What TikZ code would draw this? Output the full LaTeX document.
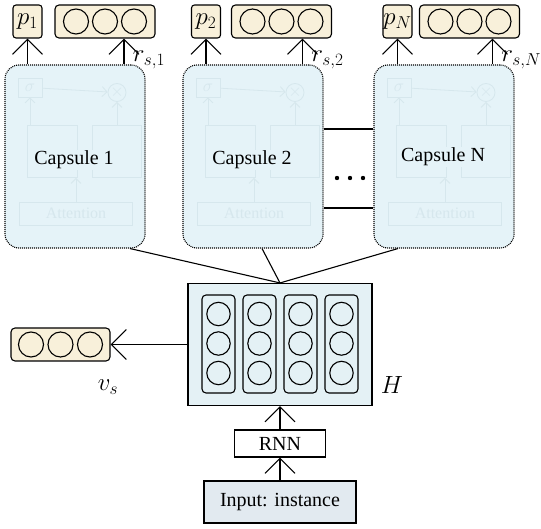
\documentclass[tikz,border=0pt]{standalone}
\usepackage{fontspec}
\setmainfont{Liberation Serif}
\usetikzlibrary{arrows.meta,positioning}
\definecolor{vecfill}{RGB}{248,240,218}
\definecolor{capfill}{RGB}{229,243,248}
\definecolor{hfill}{RGB}{228,241,245}
\definecolor{infill}{RGB}{226,234,240}
\definecolor{ghost}{RGB}{214,231,237}

\begin{document}
\begin{tikzpicture}[x=1pt, y=-1pt, line width=1.1pt,
	font=\fontsize{20}{24}\selectfont,
	arr/.style={-{Straight Barb[length=15pt,width=30pt]}},
	capsule/.style={draw, dash pattern=on 1pt off 1pt, rounded corners=14pt,
		fill=capfill, minimum width=140pt, minimum height=183pt},
	pbox/.style={draw, rounded corners=3pt, fill=vecfill, inner sep=0pt,
		minimum width=29pt, minimum height=33pt, font=\fontsize{25}{28}\selectfont},
	vecbox/.style={draw, rounded corners=4pt, fill=vecfill, inner sep=0pt,
		minimum width=100pt, minimum height=33pt},
	colbox/.style={draw, rounded corners=4pt, inner sep=0pt,
		minimum width=33pt, minimum height=98pt},
	mlabel/.style={font=\fontsize{25}{28}\selectfont},
	gbox/.style={draw=ghost, line width=0.8pt, text=ghost, inner sep=0pt,
		font=\fontsize{16}{18}\selectfont},
	gline/.style={draw=ghost, line width=0.8pt,
		-{Straight Barb[length=5pt,width=10pt]}}
	]
	\useasboundingbox (0,0) rectangle (541,529);

	% capsules
	\node[capsule] (caps1) at (75,156.5) {};
	\node[capsule] (caps2) at (253,156.5) {};
	\node[capsule] (capsN) at (444,156.5) {};
	\foreach \c in {caps1,caps2,capsN} {
		\begin{scope}[shift={(\c.center)}]
			\node[gbox, minimum width=24pt, minimum height=19pt] (\c-sig) at (-45,-69) {$\sigma$};
			\node[gbox, circle, minimum size=18pt] (\c-mul) at (42,-64) {$\times$};
			\draw[gline] (\c-sig) -- (\c-mul);
			\node[gbox, minimum width=50pt, minimum height=52pt] (\c-lft) at (-23,-5) {};
			\node[gbox, minimum width=49pt, minimum height=52pt] (\c-rgt) at (42,-5) {};
			\draw[gline] (\c-lft.north -| \c-sig) -- (\c-sig);
			\draw[gline] (\c-rgt.north -| \c-mul) -- (\c-mul);
			\node[gbox, minimum width=113pt, minimum height=23pt] (\c-att) at (1,57) {Attention};
			\draw[gline] (\c-att.north) -- (\c-att.north |- \c-lft.south);
		\end{scope}
	}
	\node[fill=capfill, inner sep=1pt] (lab1) at (74,160) {Capsule 1};
	\node[fill=capfill, inner sep=1pt] (lab2) at (252,160) {Capsule 2};
	\node[fill=capfill, inner sep=1pt] (labN) at (443,157) {Capsule N};

	% outputs of the capsules
	\node[pbox] (p1) at (27.5,21.5) {$p_1$};
	\node[vecbox] (r1) at (105,21.5) {};
	\node[pbox] (p2) at (206,21.5) {$p_2$};
	\node[vecbox] (r2) at (281.5,21.5) {};
	\node[pbox] (pN) at (397.5,21.5) {$p_N$};
	\node[vecbox] (rN) at (469.5,21.5) {};
	\foreach \r in {r1,r2,rN}
		\foreach \dx in {-29,0,29}
			\draw (\r.center) ++(\dx,0) circle (12.5pt);

	\coordinate (r1a) at ([xshift=19pt]r1.south);
	\coordinate (r2a) at ([xshift=21pt]r2.south);
	\coordinate (rNa) at ([xshift=23pt]rN.south);
	\draw[arr] (caps1.north -| p1) -- (p1);
	\draw[arr] (r1a |- caps1.north) --
		node[pos=0.1, anchor=base west, xshift=5pt, mlabel] {$r_{s,1}$} (r1a);
	\draw[arr] (caps2.north -| p2) -- (p2);
	\draw[arr] (r2a |- caps2.north) --
		node[pos=0.1, anchor=base west, xshift=5pt, mlabel] {$r_{s,2}$} (r2a);
	\draw[arr] (capsN.north -| pN) -- (pN);
	\draw[arr] (rNa |- capsN.north) --
		node[pos=0.1, anchor=base west, xshift=5pt, mlabel] {$r_{s,N}$} (rNa);

	% between capsule 2 and capsule N
	\draw ([yshift=27.5pt]caps2.east) -- ([yshift=27.5pt]capsN.west);
	\draw ([yshift=-51.5pt]caps2.east) -- ([yshift=-51.5pt]capsN.west);
	\node (dots) at (350,178) {};
	\foreach \dx in {-13,0,13}
		\fill (dots.center) ++(\dx,0) circle (2.2pt);

	% hidden states
	\node[draw, fill=hfill, minimum width=184pt, minimum height=122pt] (H) at (280,344.5) {};
	\foreach \i/\x in {1/218.5,2/259.5,3/300.5,4/341.5} {
		\node[colbox] (col\i) at (\x,344) {};
		\foreach \y in {314,343.5,373}
			\draw (\x,\y) circle (11.7pt);
	}
	\node[mlabel] (Hlab) at (392,385) {$H$};

	\node[vecbox, minimum width=99pt] (vs) at (60.5,344.5) {};
	\foreach \dx in {-29.5,0,29.5}
		\draw (vs.center) ++(\dx,0) circle (12.5pt);
	\node[mlabel] (vslab) at (108,387) {$v_s$};
	\draw[arr] (H.west) -- (vs.east);

	\draw (H.north) -- ([xshift=55pt]caps1.south);
	\draw (H.north) -- ([xshift=9pt]caps2.south);
	\draw (H.north) -- ([xshift=-46pt]capsN.south);

	% input
	\node[draw, fill=white, inner sep=0pt, minimum width=91pt, minimum height=27pt] (rnn) at (280,443.5) {RNN};
	\node[draw, fill=infill, inner sep=0pt, minimum width=152pt, minimum height=42pt] (inp) at (280,502) {Input: instance};
	\draw[arr] (inp) -- (rnn);
	\draw[arr] (rnn) -- (H);
\end{tikzpicture}
\end{document}
